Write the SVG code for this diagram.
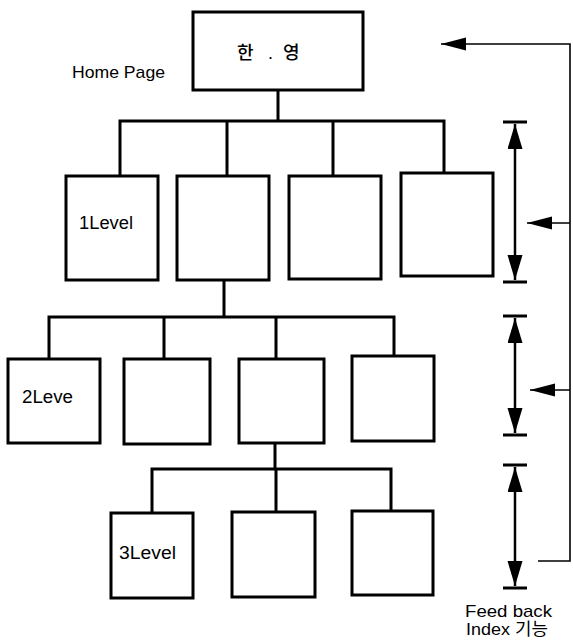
<svg xmlns="http://www.w3.org/2000/svg" width="573" height="642" viewBox="0 0 573 642">
<style>
.box{fill:#fff;stroke:#000;stroke-width:3}
.con{fill:none;stroke:#000;stroke-width:3;stroke-linecap:square}
.fb{fill:none;stroke:#000;stroke-width:1.6}
.dbl{stroke:#000;stroke-width:2.5}
.bar{stroke:#000;stroke-width:3}
.lbl{font-family:"Liberation Sans",Arial,sans-serif;fill:#000}
.kr{font-family:"Liberation Sans","Noto Sans CJK KR",sans-serif;fill:#000}
</style>
<defs>
<marker id="ah" markerUnits="userSpaceOnUse" markerWidth="26" markerHeight="16" refX="25" refY="7.5" orient="auto-start-reverse" viewBox="0 0 26 16">
<path d="M0,0 L25,7.5 L0,15 z" fill="#000"/>
</marker>
<marker id="al" markerUnits="userSpaceOnUse" markerWidth="26" markerHeight="14" refX="25" refY="6.5" orient="auto-start-reverse" viewBox="0 0 26 14">
<path d="M0,0 L25,6.5 L0,13 z" fill="#000"/>
</marker>
</defs>

<g id="connectors">
<path class="con" d="M278,90 V121 M120,176 V121 H444 V173 M227,121 V176 M333,121 V176"/>
<path class="con" d="M224,280 V317 M49,359 V317 H394 V356 M164,317 V359 M276,317 V359"/>
<path class="con" d="M275,443 V469 M152,513 V469 H391 V511 M276,469 V512"/>
</g>

<g id="home"><rect class="box" x="193" y="12" width="170" height="78"/>
<text class="kr" font-size="18" font-weight="500" y="59"><tspan x="237">한 </tspan><tspan x="268">. </tspan><tspan x="283">영</tspan></text></g>
<text id="home-label" class="lbl" x="72" y="78" font-size="17" textLength="93" lengthAdjust="spacingAndGlyphs">Home Page</text>

<g id="l1a"><rect class="box" x="66" y="176" width="92" height="104"/>
<text class="lbl" x="79" y="229" font-size="18" textLength="54" lengthAdjust="spacingAndGlyphs">1Level</text></g>
<g id="l1b"><rect class="box" x="177" y="176" width="92" height="104"/></g>
<g id="l1c"><rect class="box" x="289" y="176" width="92" height="103"/></g>
<g id="l1d"><rect class="box" x="401" y="173" width="92" height="103"/></g>

<g id="l2a"><rect class="box" x="8" y="359" width="92" height="84"/>
<text class="lbl" x="22" y="403" font-size="18" textLength="51" lengthAdjust="spacingAndGlyphs">2Leve</text></g>
<g id="l2b"><rect class="box" x="124" y="359" width="86" height="85"/></g>
<g id="l2c"><rect class="box" x="239" y="359" width="85" height="84"/></g>
<g id="l2d"><rect class="box" x="352" y="356" width="82" height="85"/></g>

<g id="l3a"><rect class="box" x="111" y="513" width="82" height="85"/>
<text class="lbl" x="119" y="559" font-size="18" textLength="57" lengthAdjust="spacingAndGlyphs">3Level</text></g>
<g id="l3b"><rect class="box" x="232" y="512" width="83" height="85"/></g>
<g id="l3c"><rect class="box" x="352" y="511" width="81" height="84"/></g>

<g id="range1">
<line class="bar" x1="503" y1="122" x2="527" y2="122"/>
<line class="bar" x1="503" y1="282" x2="527" y2="282"/>
<line class="dbl" x1="515" y1="124" x2="515" y2="280" marker-start="url(#ah)" marker-end="url(#ah)"/>
</g>
<g id="range2">
<line class="bar" x1="503" y1="316" x2="527" y2="316"/>
<line class="bar" x1="503" y1="435" x2="527" y2="435"/>
<line class="dbl" x1="515" y1="318" x2="515" y2="433" marker-start="url(#ah)" marker-end="url(#ah)"/>
</g>
<g id="range3">
<line class="bar" x1="503" y1="465" x2="527" y2="465"/>
<line class="bar" x1="503" y1="588" x2="527" y2="588"/>
<line class="dbl" x1="515" y1="467" x2="515" y2="586" marker-start="url(#ah)" marker-end="url(#ah)"/>
</g>

<g id="feedback">
<path class="fb" d="M441,44 H570 V561 H538" marker-start="url(#al)"/>
<line class="fb" x1="570" y1="223" x2="527" y2="223" marker-end="url(#al)"/>
<line class="fb" x1="570" y1="390" x2="530" y2="390" marker-end="url(#al)"/>
<text class="lbl" x="465" y="617" font-size="17" textLength="87" lengthAdjust="spacingAndGlyphs">Feed back</text>
<text class="kr" x="466" y="635" font-size="17" textLength="82" lengthAdjust="spacingAndGlyphs">Index 기능</text>
</g>
</svg>
